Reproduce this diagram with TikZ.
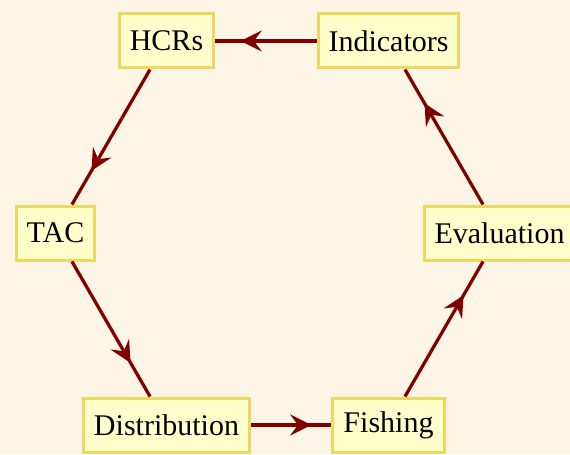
\documentclass[tikz,border=0pt]{standalone}
\usepackage{fontspec}
\setmainfont{Liberation Serif}
\usepackage{xcolor}
\usepackage{tikz}
\usetikzlibrary{arrows}
\usetikzlibrary{decorations.markings}
\definecolor{paper}{RGB}{253,245,230}
\definecolor{boxfill}{RGB}{255,255,204}
\definecolor{boxline}{RGB}{240,216,96}
\definecolor{linkred}{RGB}{128,0,0}
\tikzset{
	stage/.style={rectangle,draw=boxline,fill=boxfill,line width=1.2pt,
		font=\fontsize{12}{14}\selectfont,inner xsep=4.2pt,inner ysep=0pt,minimum height=21.6pt},
	link/.style={draw=linkred,line width=1.3pt,postaction={decorate},
		decoration={markings,mark=at position 0.75 with {\arrow[scale=1.6]{stealth}}}}
}

\begin{document}
\begin{tikzpicture}[x=0.4pt,y=0.4pt]
            \fill[paper] (0,0) rectangle (570,454);
            \useasboundingbox (0,0) rectangle (570,454);
            \node [stage] (1) at (166.5,413) {HCRs};
            \node [stage] (2) at (388.5,413) {Indicators};
            \node [stage] (3) at (55.5,221) {TAC};
            \node [stage] (4) at (499.5,221) {Evaluation};
            \node [stage] (5) at (166.5,29) {Distribution};
            \node [stage] (6) at (388.5,29) {Fishing};
            \path [link] (2) -- (1);
            \path [link] (1) -- (3);
            \path [link] (3) -- (5);
            \path [link] (5) -- (6);
            \path [link] (6) -- (4);
            \path [link] (4) -- (2);
          \end{tikzpicture}
\end{document}
